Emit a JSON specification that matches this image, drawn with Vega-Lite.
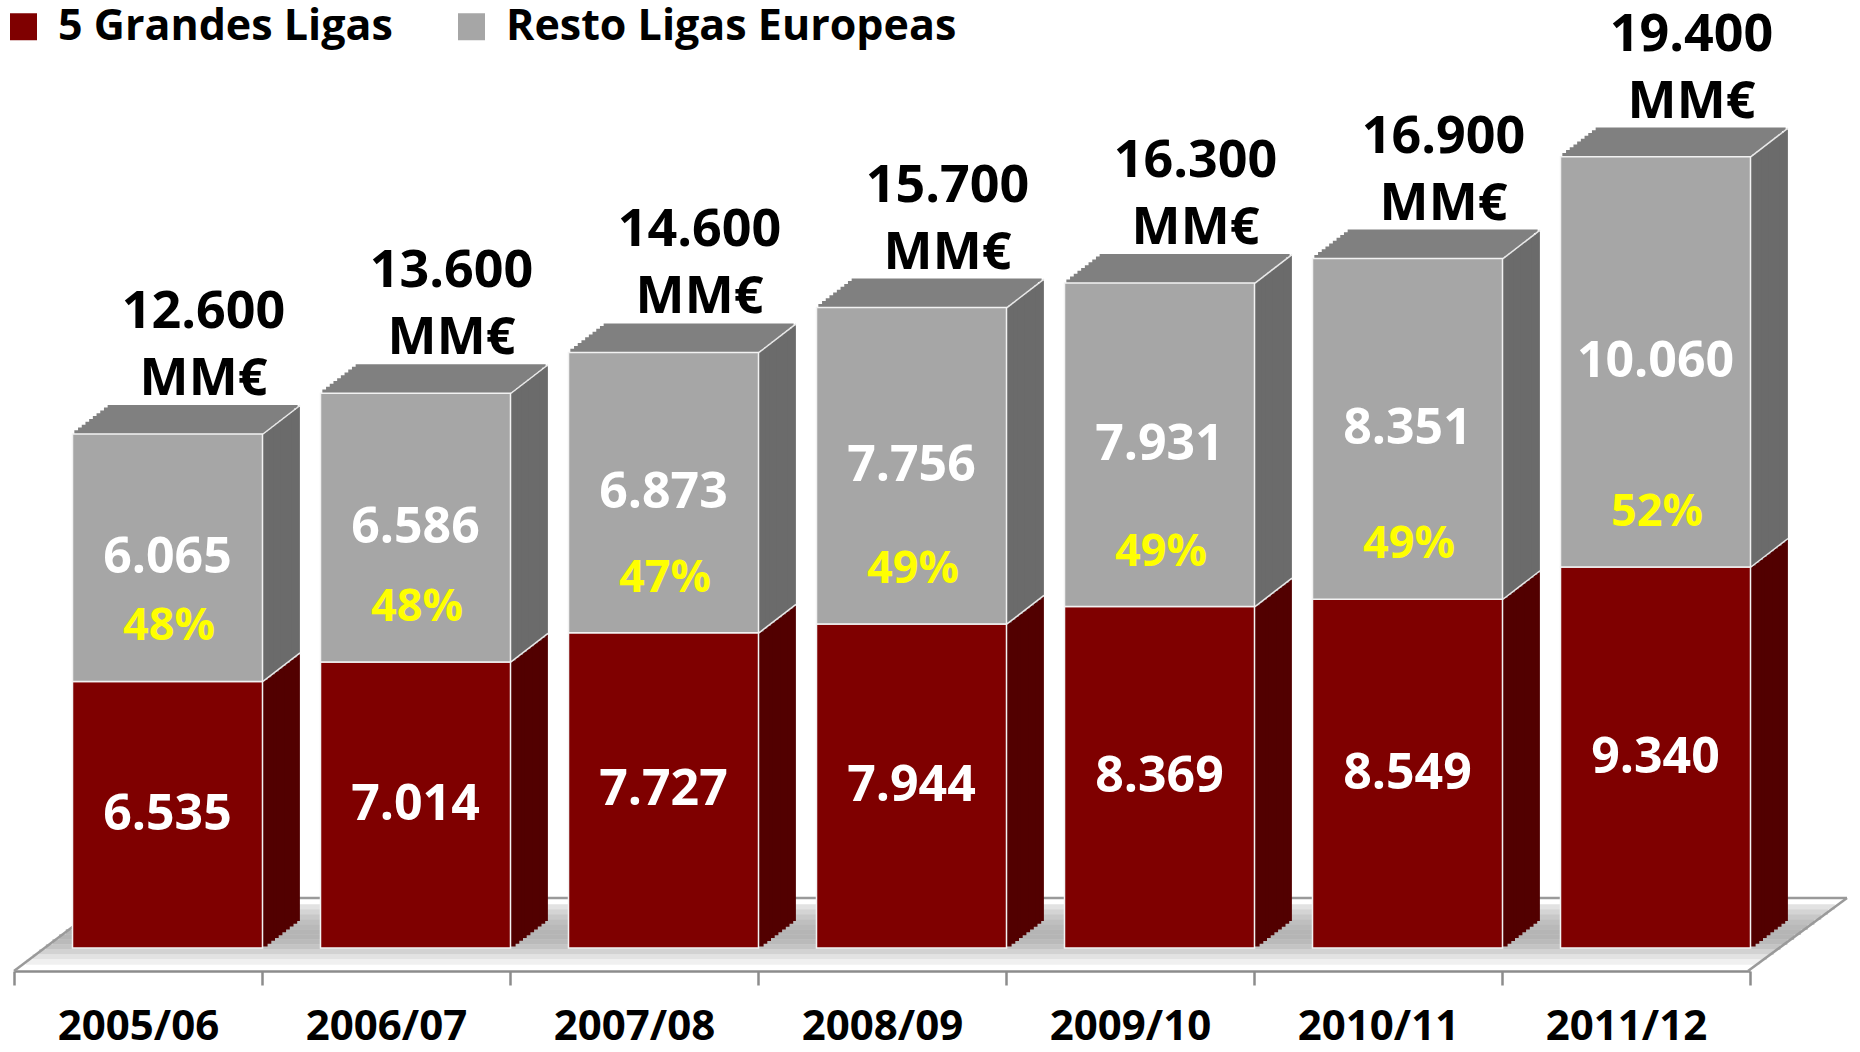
{
"$schema": "https://vega.github.io/schema/vega-lite/v6.json",
"width": 1736, "height": 948,
"autosize": {"type": "none"},
"padding": {"left": 14, "top": 0, "right": 110, "bottom": 104},
"background": "white",
"config": {"view": {"stroke": null}, "locale": {"number": {"decimal": ",", "thousands": ".", "grouping": [3], "currency": ["", "€"]}}},
"data": {"values": [
{"season": "2005/06", "g5": 6535, "resto": 6065, "total": 12600, "pct": 0.48},
{"season": "2006/07", "g5": 7014, "resto": 6586, "total": 13600, "pct": 0.48},
{"season": "2007/08", "g5": 7727, "resto": 6873, "total": 14600, "pct": 0.47},
{"season": "2008/09", "g5": 7944, "resto": 7756, "total": 15700, "pct": 0.49},
{"season": "2009/10", "g5": 8369, "resto": 7931, "total": 16300, "pct": 0.49},
{"season": "2010/11", "g5": 8549, "resto": 8351, "total": 16900, "pct": 0.49},
{"season": "2011/12", "g5": 9340, "resto": 10060, "total": 19400, "pct": 0.52}
]},
"encoding": {"x": {"field": "season", "type": "nominal", "sort": null, "scale": {"domain": ["2005/06", "2006/07", "2007/08", "2008/09", "2009/10", "2010/11", "2011/12"], "paddingInner": 0, "paddingOuter": 0}, "axis": {"title": null, "labelAngle": 0, "offset": 23, "tickBand": "extent", "tickSize": 14, "tickWidth": 2.5, "tickColor": "#8c8c8c", "domainColor": "#8c8c8c", "domainWidth": 2.5, "labelFont": "Open Sans", "labelFontWeight": "bold", "labelFontSize": 42, "labelColor": "#000000", "labelPadding": 54, "labelBaseline": "alphabetic", "labelLimit": 400}}},
"layer": [
{"transform": [{"filter": "datum.season == '2005/06'"}], "mark": {"type": "rule", "color": "#e2e2e2", "strokeWidth": 5.5, "xOffset": -39, "x2Offset": 208.8, "yOffset": -41, "y2Offset": -41}, "encoding": {"x2": {"datum": "2011/12"}, "y": {"datum": 0, "type": "quantitative", "scale": {"domain": [0, 23240], "nice": false}, "axis": null}, "y2": {"datum": 0}}},
{"transform": [{"filter": "datum.season == '2005/06'"}], "mark": {"type": "rule", "color": "#d4d4d4", "strokeWidth": 5.5, "xOffset": -45.6, "x2Offset": 202, "yOffset": -36, "y2Offset": -36}, "encoding": {"x2": {"datum": "2011/12"}, "y": {"datum": 0, "type": "quantitative", "scale": {"domain": [0, 23240], "nice": false}, "axis": null}, "y2": {"datum": 0}}},
{"transform": [{"filter": "datum.season == '2005/06'"}], "mark": {"type": "rule", "color": "#c8c8c8", "strokeWidth": 5.5, "xOffset": -52.2, "x2Offset": 195.2, "yOffset": -31, "y2Offset": -31}, "encoding": {"x2": {"datum": "2011/12"}, "y": {"datum": 0, "type": "quantitative", "scale": {"domain": [0, 23240], "nice": false}, "axis": null}, "y2": {"datum": 0}}},
{"transform": [{"filter": "datum.season == '2005/06'"}], "mark": {"type": "rule", "color": "#bfbfbf", "strokeWidth": 5.5, "xOffset": -58.9, "x2Offset": 188.4, "yOffset": -26, "y2Offset": -26}, "encoding": {"x2": {"datum": "2011/12"}, "y": {"datum": 0, "type": "quantitative", "scale": {"domain": [0, 23240], "nice": false}, "axis": null}, "y2": {"datum": 0}}},
{"transform": [{"filter": "datum.season == '2005/06'"}], "mark": {"type": "rule", "color": "#b9b9b9", "strokeWidth": 5.5, "xOffset": -65.5, "x2Offset": 181.7, "yOffset": -21, "y2Offset": -21}, "encoding": {"x2": {"datum": "2011/12"}, "y": {"datum": 0, "type": "quantitative", "scale": {"domain": [0, 23240], "nice": false}, "axis": null}, "y2": {"datum": 0}}},
{"transform": [{"filter": "datum.season == '2005/06'"}], "mark": {"type": "rule", "color": "#b5b5b5", "strokeWidth": 5.5, "xOffset": -72.2, "x2Offset": 174.9, "yOffset": -16, "y2Offset": -16}, "encoding": {"x2": {"datum": "2011/12"}, "y": {"datum": 0, "type": "quantitative", "scale": {"domain": [0, 23240], "nice": false}, "axis": null}, "y2": {"datum": 0}}},
{"transform": [{"filter": "datum.season == '2005/06'"}], "mark": {"type": "rule", "color": "#b5b5b5", "strokeWidth": 5.5, "xOffset": -78.8, "x2Offset": 168.1, "yOffset": -11, "y2Offset": -11}, "encoding": {"x2": {"datum": "2011/12"}, "y": {"datum": 0, "type": "quantitative", "scale": {"domain": [0, 23240], "nice": false}, "axis": null}, "y2": {"datum": 0}}},
{"transform": [{"filter": "datum.season == '2005/06'"}], "mark": {"type": "rule", "color": "#bababa", "strokeWidth": 5.5, "xOffset": -85.5, "x2Offset": 161.3, "yOffset": -6, "y2Offset": -6}, "encoding": {"x2": {"datum": "2011/12"}, "y": {"datum": 0, "type": "quantitative", "scale": {"domain": [0, 23240], "nice": false}, "axis": null}, "y2": {"datum": 0}}},
{"transform": [{"filter": "datum.season == '2005/06'"}], "mark": {"type": "rule", "color": "#c4c4c4", "strokeWidth": 5.5, "xOffset": -92.1, "x2Offset": 154.5, "yOffset": -1, "y2Offset": -1}, "encoding": {"x2": {"datum": "2011/12"}, "y": {"datum": 0, "type": "quantitative", "scale": {"domain": [0, 23240], "nice": false}, "axis": null}, "y2": {"datum": 0}}},
{"transform": [{"filter": "datum.season == '2005/06'"}], "mark": {"type": "rule", "color": "#d2d2d2", "strokeWidth": 5.5, "xOffset": -98.8, "x2Offset": 147.8, "yOffset": 4, "y2Offset": 4}, "encoding": {"x2": {"datum": "2011/12"}, "y": {"datum": 0, "type": "quantitative", "scale": {"domain": [0, 23240], "nice": false}, "axis": null}, "y2": {"datum": 0}}},
{"transform": [{"filter": "datum.season == '2005/06'"}], "mark": {"type": "rule", "color": "#e2e2e2", "strokeWidth": 5.5, "xOffset": -105.4, "x2Offset": 141, "yOffset": 9, "y2Offset": 9}, "encoding": {"x2": {"datum": "2011/12"}, "y": {"datum": 0, "type": "quantitative", "scale": {"domain": [0, 23240], "nice": false}, "axis": null}, "y2": {"datum": 0}}},
{"transform": [{"filter": "datum.season == '2005/06'"}], "mark": {"type": "rule", "color": "#f0f0f0", "strokeWidth": 5.5, "xOffset": -112, "x2Offset": 134.2, "yOffset": 14, "y2Offset": 14}, "encoding": {"x2": {"datum": "2011/12"}, "y": {"datum": 0, "type": "quantitative", "scale": {"domain": [0, 23240], "nice": false}, "axis": null}, "y2": {"datum": 0}}},
{"transform": [{"filter": "datum.season == '2005/06'"}], "mark": {"type": "rule", "color": "#9a9a9a", "strokeWidth": 2.5, "xOffset": -27, "x2Offset": 221, "yOffset": -50, "y2Offset": -50}, "encoding": {"x2": {"datum": "2011/12"}, "y": {"datum": 0, "type": "quantitative", "scale": {"domain": [0, 23240], "nice": false}, "axis": null}, "y2": {"datum": 0}}},
{"transform": [{"filter": "datum.season == '2005/06'"}], "mark": {"type": "rule", "color": "#9a9a9a", "strokeWidth": 2.5, "xOffset": -124, "x2Offset": -27, "yOffset": 23, "y2Offset": -50}, "encoding": {"x2": {"field": "season"}, "y": {"datum": 0, "type": "quantitative", "scale": {"domain": [0, 23240], "nice": false}, "axis": null}, "y2": {"datum": 0}}},
{"transform": [{"filter": "datum.season == '2011/12'"}], "mark": {"type": "rule", "color": "#9a9a9a", "strokeWidth": 2.5, "xOffset": 122, "x2Offset": 221, "yOffset": 23, "y2Offset": -50}, "encoding": {"x2": {"field": "season"}, "y": {"datum": 0, "type": "quantitative", "scale": {"domain": [0, 23240], "nice": false}, "axis": null}, "y2": {"datum": 0}}},

{"mark": {"type": "rule", "color": "#520000", "strokeWidth": 5.5, "xOffset": 126.85, "yOffset": -1.425, "y2Offset": -1.425}, "encoding": {"y": {"field": "g5", "type": "quantitative", "scale": {"domain": [0, 23240], "nice": false}, "axis": null}, "y2": {"datum": 0}}},
{"mark": {"type": "rule", "color": "#520000", "strokeWidth": 5.5, "xOffset": 130.55, "yOffset": -4.275, "y2Offset": -4.275}, "encoding": {"y": {"field": "g5", "type": "quantitative", "scale": {"domain": [0, 23240], "nice": false}, "axis": null}, "y2": {"datum": 0}}},
{"mark": {"type": "rule", "color": "#520000", "strokeWidth": 5.5, "xOffset": 134.25, "yOffset": -7.125, "y2Offset": -7.125}, "encoding": {"y": {"field": "g5", "type": "quantitative", "scale": {"domain": [0, 23240], "nice": false}, "axis": null}, "y2": {"datum": 0}}},
{"mark": {"type": "rule", "color": "#520000", "strokeWidth": 5.5, "xOffset": 137.95, "yOffset": -9.975, "y2Offset": -9.975}, "encoding": {"y": {"field": "g5", "type": "quantitative", "scale": {"domain": [0, 23240], "nice": false}, "axis": null}, "y2": {"datum": 0}}},
{"mark": {"type": "rule", "color": "#520000", "strokeWidth": 5.5, "xOffset": 141.65, "yOffset": -12.825, "y2Offset": -12.825}, "encoding": {"y": {"field": "g5", "type": "quantitative", "scale": {"domain": [0, 23240], "nice": false}, "axis": null}, "y2": {"datum": 0}}},
{"mark": {"type": "rule", "color": "#520000", "strokeWidth": 5.5, "xOffset": 145.35, "yOffset": -15.675, "y2Offset": -15.675}, "encoding": {"y": {"field": "g5", "type": "quantitative", "scale": {"domain": [0, 23240], "nice": false}, "axis": null}, "y2": {"datum": 0}}},
{"mark": {"type": "rule", "color": "#520000", "strokeWidth": 5.5, "xOffset": 149.05, "yOffset": -18.525, "y2Offset": -18.525}, "encoding": {"y": {"field": "g5", "type": "quantitative", "scale": {"domain": [0, 23240], "nice": false}, "axis": null}, "y2": {"datum": 0}}},
{"mark": {"type": "rule", "color": "#520000", "strokeWidth": 5.5, "xOffset": 152.75, "yOffset": -21.375, "y2Offset": -21.375}, "encoding": {"y": {"field": "g5", "type": "quantitative", "scale": {"domain": [0, 23240], "nice": false}, "axis": null}, "y2": {"datum": 0}}},
{"mark": {"type": "rule", "color": "#520000", "strokeWidth": 5.5, "xOffset": 156.45, "yOffset": -24.225, "y2Offset": -24.225}, "encoding": {"y": {"field": "g5", "type": "quantitative", "scale": {"domain": [0, 23240], "nice": false}, "axis": null}, "y2": {"datum": 0}}},
{"mark": {"type": "rule", "color": "#520000", "strokeWidth": 4, "xOffset": 159.9, "yOffset": -27.075, "y2Offset": -27.075}, "encoding": {"y": {"field": "g5", "type": "quantitative", "scale": {"domain": [0, 23240], "nice": false}, "axis": null}, "y2": {"datum": 0}}},

{"mark": {"type": "rule", "color": "#6b6b6b", "strokeWidth": 5.5, "xOffset": 126.85, "yOffset": -1.425, "y2Offset": -1.425}, "encoding": {"y": {"field": "g5", "type": "quantitative", "scale": {"domain": [0, 23240], "nice": false}, "axis": null}, "y2": {"field": "total"}}},
{"mark": {"type": "rule", "color": "#6b6b6b", "strokeWidth": 5.5, "xOffset": 130.55, "yOffset": -4.275, "y2Offset": -4.275}, "encoding": {"y": {"field": "g5", "type": "quantitative", "scale": {"domain": [0, 23240], "nice": false}, "axis": null}, "y2": {"field": "total"}}},
{"mark": {"type": "rule", "color": "#6b6b6b", "strokeWidth": 5.5, "xOffset": 134.25, "yOffset": -7.125, "y2Offset": -7.125}, "encoding": {"y": {"field": "g5", "type": "quantitative", "scale": {"domain": [0, 23240], "nice": false}, "axis": null}, "y2": {"field": "total"}}},
{"mark": {"type": "rule", "color": "#6b6b6b", "strokeWidth": 5.5, "xOffset": 137.95, "yOffset": -9.975, "y2Offset": -9.975}, "encoding": {"y": {"field": "g5", "type": "quantitative", "scale": {"domain": [0, 23240], "nice": false}, "axis": null}, "y2": {"field": "total"}}},
{"mark": {"type": "rule", "color": "#6b6b6b", "strokeWidth": 5.5, "xOffset": 141.65, "yOffset": -12.825, "y2Offset": -12.825}, "encoding": {"y": {"field": "g5", "type": "quantitative", "scale": {"domain": [0, 23240], "nice": false}, "axis": null}, "y2": {"field": "total"}}},
{"mark": {"type": "rule", "color": "#6b6b6b", "strokeWidth": 5.5, "xOffset": 145.35, "yOffset": -15.675, "y2Offset": -15.675}, "encoding": {"y": {"field": "g5", "type": "quantitative", "scale": {"domain": [0, 23240], "nice": false}, "axis": null}, "y2": {"field": "total"}}},
{"mark": {"type": "rule", "color": "#6b6b6b", "strokeWidth": 5.5, "xOffset": 149.05, "yOffset": -18.525, "y2Offset": -18.525}, "encoding": {"y": {"field": "g5", "type": "quantitative", "scale": {"domain": [0, 23240], "nice": false}, "axis": null}, "y2": {"field": "total"}}},
{"mark": {"type": "rule", "color": "#6b6b6b", "strokeWidth": 5.5, "xOffset": 152.75, "yOffset": -21.375, "y2Offset": -21.375}, "encoding": {"y": {"field": "g5", "type": "quantitative", "scale": {"domain": [0, 23240], "nice": false}, "axis": null}, "y2": {"field": "total"}}},
{"mark": {"type": "rule", "color": "#6b6b6b", "strokeWidth": 5.5, "xOffset": 156.45, "yOffset": -24.225, "y2Offset": -24.225}, "encoding": {"y": {"field": "g5", "type": "quantitative", "scale": {"domain": [0, 23240], "nice": false}, "axis": null}, "y2": {"field": "total"}}},
{"mark": {"type": "rule", "color": "#6b6b6b", "strokeWidth": 4, "xOffset": 159.9, "yOffset": -27.075, "y2Offset": -27.075}, "encoding": {"y": {"field": "g5", "type": "quantitative", "scale": {"domain": [0, 23240], "nice": false}, "axis": null}, "y2": {"field": "total"}}},

{"mark": {"type": "tick", "color": "#808080", "opacity": 1, "size": 190, "thickness": 4.5, "xOffset": 31.35, "yOffset": -1.425}, "encoding": {"y": {"field": "total", "type": "quantitative", "scale": {"domain": [0, 23240], "nice": false}, "axis": null}}},
{"mark": {"type": "tick", "color": "#808080", "opacity": 1, "size": 190, "thickness": 4.5, "xOffset": 35.05, "yOffset": -4.275}, "encoding": {"y": {"field": "total", "type": "quantitative", "scale": {"domain": [0, 23240], "nice": false}, "axis": null}}},
{"mark": {"type": "tick", "color": "#808080", "opacity": 1, "size": 190, "thickness": 4.5, "xOffset": 38.75, "yOffset": -7.125}, "encoding": {"y": {"field": "total", "type": "quantitative", "scale": {"domain": [0, 23240], "nice": false}, "axis": null}}},
{"mark": {"type": "tick", "color": "#808080", "opacity": 1, "size": 190, "thickness": 4.5, "xOffset": 42.45, "yOffset": -9.975}, "encoding": {"y": {"field": "total", "type": "quantitative", "scale": {"domain": [0, 23240], "nice": false}, "axis": null}}},
{"mark": {"type": "tick", "color": "#808080", "opacity": 1, "size": 190, "thickness": 4.5, "xOffset": 46.15, "yOffset": -12.825}, "encoding": {"y": {"field": "total", "type": "quantitative", "scale": {"domain": [0, 23240], "nice": false}, "axis": null}}},
{"mark": {"type": "tick", "color": "#808080", "opacity": 1, "size": 190, "thickness": 4.5, "xOffset": 49.85, "yOffset": -15.675}, "encoding": {"y": {"field": "total", "type": "quantitative", "scale": {"domain": [0, 23240], "nice": false}, "axis": null}}},
{"mark": {"type": "tick", "color": "#808080", "opacity": 1, "size": 190, "thickness": 4.5, "xOffset": 53.55, "yOffset": -18.525}, "encoding": {"y": {"field": "total", "type": "quantitative", "scale": {"domain": [0, 23240], "nice": false}, "axis": null}}},
{"mark": {"type": "tick", "color": "#808080", "opacity": 1, "size": 190, "thickness": 4.5, "xOffset": 57.25, "yOffset": -21.375}, "encoding": {"y": {"field": "total", "type": "quantitative", "scale": {"domain": [0, 23240], "nice": false}, "axis": null}}},
{"mark": {"type": "tick", "color": "#808080", "opacity": 1, "size": 190, "thickness": 4.5, "xOffset": 60.95, "yOffset": -24.225}, "encoding": {"y": {"field": "total", "type": "quantitative", "scale": {"domain": [0, 23240], "nice": false}, "axis": null}}},
{"mark": {"type": "tick", "color": "#808080", "opacity": 1, "size": 190, "thickness": 3.5, "xOffset": 64.65, "yOffset": -27.3}, "encoding": {"y": {"field": "total", "type": "quantitative", "scale": {"domain": [0, 23240], "nice": false}, "axis": null}}},

{"mark": {"type": "rule", "color": "#e8e8e8", "strokeWidth": 1.5, "xOffset": 125, "x2Offset": 162, "yOffset": 0, "y2Offset": -28.5}, "encoding": {"x2": {"field": "season"}, "y": {"field": "total", "type": "quantitative", "scale": {"domain": [0, 23240], "nice": false}, "axis": null}, "y2": {"field": "total"}}},
{"mark": {"type": "rule", "color": "#e8e8e8", "strokeWidth": 1.5, "xOffset": 125, "x2Offset": 162, "yOffset": 0, "y2Offset": -28.5}, "encoding": {"x2": {"field": "season"}, "y": {"field": "g5", "type": "quantitative", "scale": {"domain": [0, 23240], "nice": false}, "axis": null}, "y2": {"field": "g5"}}},

{"mark": {"type": "bar", "width": 190, "xOffset": 29.5, "opacity": 1, "stroke": "#f2f2f2", "strokeWidth": 1.5}, "encoding": {"y": {"field": "g5", "type": "quantitative", "scale": {"domain": [0, 23240], "nice": false}, "axis": null}, "color": {"datum": "5 Grandes Ligas", "type": "nominal", "scale": {"domain": ["5 Grandes Ligas", "Resto Ligas Europeas"], "range": ["#7f0000", "#a6a6a6"]}, "legend": {"title": null, "orient": "none", "legendX": -12, "legendY": 5, "direction": "horizontal", "symbolType": "square", "symbolSize": 729, "symbolStrokeWidth": 0, "symbolOpacity": 1, "labelFont": "Open Sans", "labelFontWeight": "bold", "labelFontSize": 43, "labelColor": "#000000", "labelOffset": 13, "columnPadding": 57, "padding": 0, "labelLimit": 800}}}},
{"mark": {"type": "bar", "width": 190, "xOffset": 29.5, "opacity": 1, "stroke": "#f2f2f2", "strokeWidth": 1.5}, "encoding": {"y": {"field": "g5", "type": "quantitative", "scale": {"domain": [0, 23240], "nice": false}, "axis": null}, "y2": {"field": "total"}, "color": {"datum": "Resto Ligas Europeas", "type": "nominal"}}},

{"transform": [{"fold": ["g5", "resto"], "as": ["serie", "value"]}], "mark": {"type": "text", "font": "Open Sans", "fontWeight": "bold", "fontSize": 50, "color": "#ffffff", "baseline": "middle", "align": "center", "xOffset": 29.5}, "encoding": {"y": {"field": "value", "type": "quantitative", "stack": "zero", "bandPosition": 0.5, "scale": {"domain": [0, 23240], "nice": false}, "axis": null}, "detail": {"field": "serie"}, "order": {"field": "serie"}, "text": {"field": "value", "type": "quantitative", "format": ",.0f"}}},
{"mark": {"type": "text", "font": "Open Sans", "fontWeight": "bold", "fontSize": 45, "color": "#ffff00", "baseline": "middle", "align": "center", "xOffset": 31, "dy": -55}, "encoding": {"y": {"field": "g5", "type": "quantitative", "scale": {"domain": [0, 23240], "nice": false}, "axis": null}, "text": {"field": "pct", "type": "quantitative", "format": ".0%"}}},
{"mark": {"type": "text", "font": "Open Sans", "fontWeight": "bold", "fontSize": 52, "color": "#000000", "baseline": "middle", "align": "center", "xOffset": 65.5, "dy": -122}, "encoding": {"y": {"field": "total", "type": "quantitative", "scale": {"domain": [0, 23240], "nice": false}, "axis": null}, "text": {"field": "total", "type": "quantitative", "format": ",.0f"}}},
{"mark": {"type": "text", "font": "Open Sans", "fontWeight": "bold", "fontSize": 52, "color": "#000000", "baseline": "middle", "align": "center", "xOffset": 65.5, "dy": -55}, "encoding": {"y": {"field": "total", "type": "quantitative", "scale": {"domain": [0, 23240], "nice": false}, "axis": null}, "text": {"value": "MM€"}}}
]
}
